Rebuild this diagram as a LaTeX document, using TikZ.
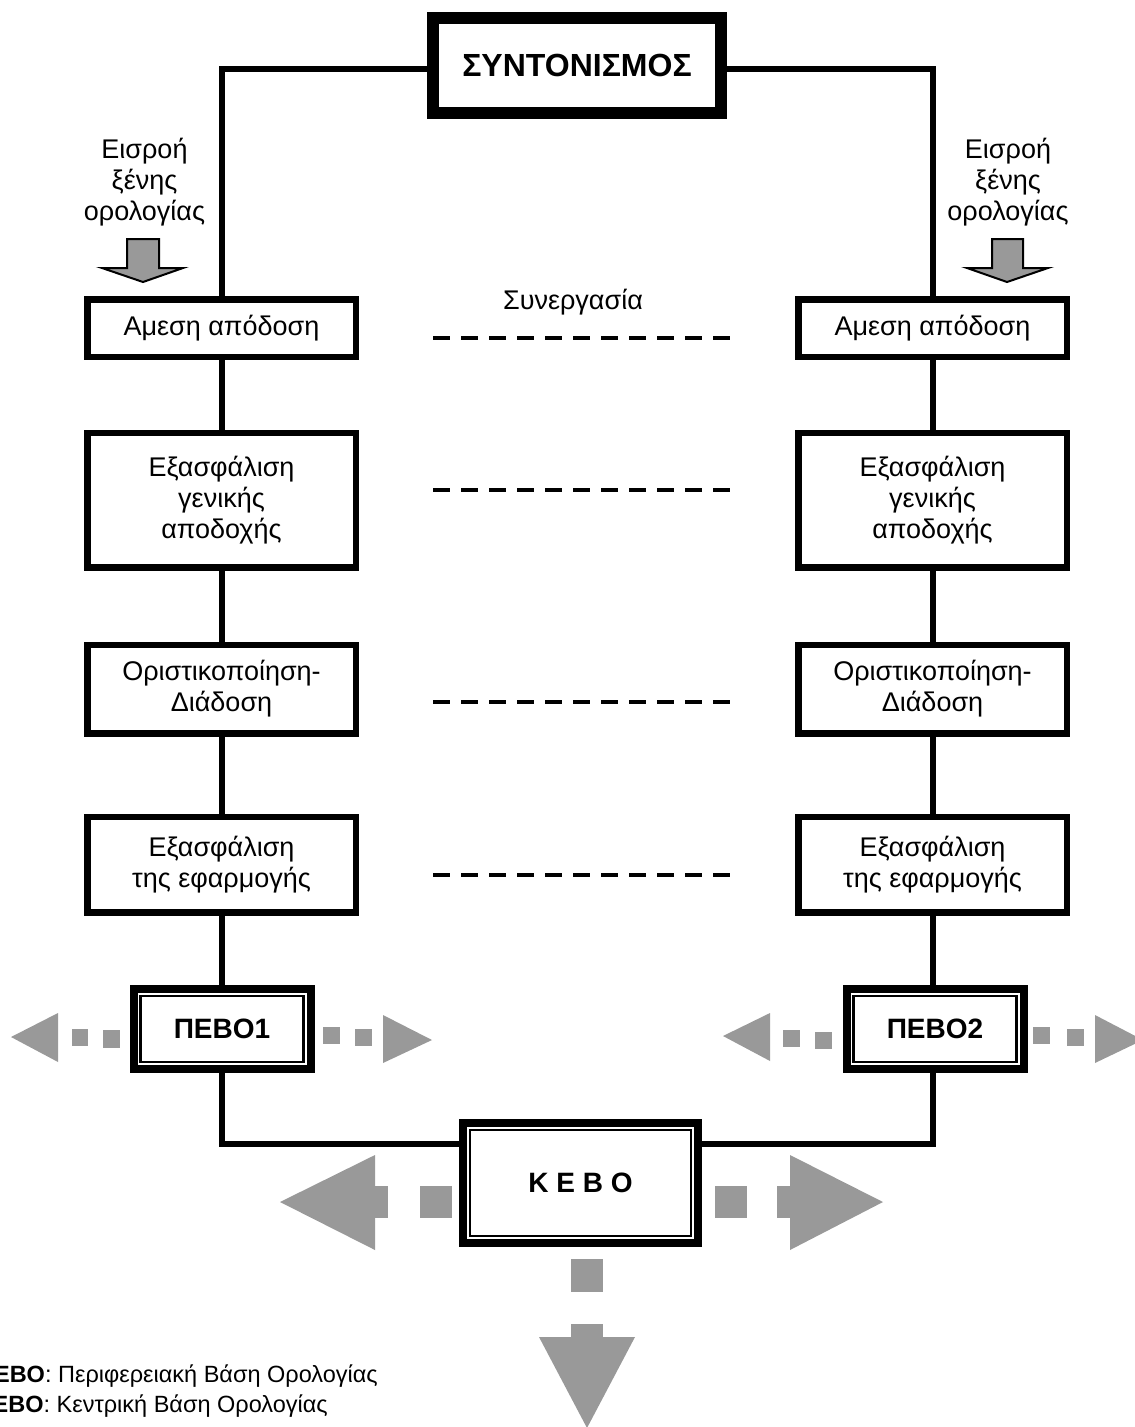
\documentclass[tikz,border=0pt]{standalone}
\usepackage{fontspec}
\setmainfont{Liberation Sans}
\definecolor{arrgray}{HTML}{999999}
\begin{document}
\begin{tikzpicture}[x=1pt,y=-1pt,
  box/.style={draw,line width=6.5pt,fill=white,minimum width=268.5pt,inner sep=0pt,align=center,font=\fontsize{27}{31}\selectfont},
  dbox/.style={draw,line width=8pt,fill=white,inner sep=0pt,align=center,font=\bfseries\fontsize{28}{32}\selectfont},
  inner/.style={draw=black,line width=2.2pt},
  conn/.style={line width=6pt,line join=miter},
  coop/.style={line width=4pt,dash pattern=on 17pt off 11pt},
  garrow/.style={fill=arrgray,draw=none},
  inarrow/.style={fill=arrgray,draw=black,line width=2pt,line join=miter},
  lbl/.style={font=\fontsize{27}{31}\selectfont,align=center,inner sep=0pt},
  legend/.style={anchor=base east,font=\fontsize{23.5}{28}\selectfont,inner sep=0pt}]

\useasboundingbox (0,0) rectangle (1135,1427);

% top box
\node[draw,line width=12pt,fill=white,minimum width=288pt,minimum height=95pt,inner sep=0pt,font=\bfseries\fontsize{32}{36}\selectfont] (synt) at (577,65.5) {ΣΥΝΤΟΝΙΣΜΟΣ};

% left column
\node[box,minimum height=57.5pt] (a1) at (221.5,328) {Αμεση απόδοση};
\node[box,minimum height=134.5pt] (g1) at (221.5,500) {Εξασφάλιση\\γενικής\\αποδοχής};
\node[box,minimum height=88.5pt] (o1) at (221.5,689) {Οριστικοποίηση-\\Διάδοση};
\node[box,minimum height=95.5pt] (e1) at (221.5,864.5) {Εξασφάλιση\\της εφαρμογής};
\node[dbox,minimum width=177pt,minimum height=80pt] (p1) at (222,1029) {ΠΕΒΟ1};

% right column
\node[box,minimum height=57.5pt] (a2) at (932.5,328) {Αμεση απόδοση};
\node[box,minimum height=134.5pt] (g2) at (932.5,500) {Εξασφάλιση\\γενικής\\αποδοχής};
\node[box,minimum height=88.5pt] (o2) at (932.5,689) {Οριστικοποίηση-\\Διάδοση};
\node[box,minimum height=95.5pt] (e2) at (932.5,864.5) {Εξασφάλιση\\της εφαρμογής};
\node[dbox,minimum width=177pt,minimum height=80pt] (p2) at (935,1029) {ΠΕΒΟ2};

% central box
\node[dbox,minimum width=235pt,minimum height=120pt] (kebo) at (580.5,1183) {Κ Ε Β Ο};

% inner thin borders (double frame)
\draw[inner] (140.5,996) rectangle (303.5,1062);
\draw[inner] (853.5,996) rectangle (1016.5,1062);
\draw[inner] (470,1130) rectangle (691,1236);

% connectors
\draw[conn] ([yshift=-3.5pt]synt.west) -| (a1.north);
\draw[conn] ([yshift=-3.5pt]synt.east) -| (a2.north);
\draw[conn] (a1.south) -- (g1.north);
\draw[conn] (g1.south) -- (o1.north);
\draw[conn] (o1.south) -- (e1.north);
\draw[conn] (e1.south) -- (e1.south |- p1.north);
\draw[conn] (a2.south) -- (g2.north);
\draw[conn] (g2.south) -- (o2.north);
\draw[conn] (o2.south) -- (e2.north);
\draw[conn] (e2.south) -- (e2.south |- p2.north);
\draw[conn] (e1.south |- p1.south) |- ([yshift=39pt]kebo.west);
\draw[conn] (e2.south |- p2.south) |- ([yshift=39pt]kebo.east);

% cooperation
\node[lbl] (coopl) at (573,302) {Συνεργασία};
\foreach \y/\k in {338/1,490/2,702/3,875/4}{
  \coordinate (cl\k) at (433,\y);
  \coordinate (cr\k) at (731,\y);
  \draw[coop] (cl\k) -- (cr\k);
}

% foreign terminology inputs
\node[lbl] (in1) at (144.5,182) {Εισροή\\ξένης\\ορολογίας};
\node[lbl] (in2) at (1008,182) {Εισροή\\ξένης\\ορολογίας};
\draw[inarrow] (127,239) -- (159,239) -- (159,268) -- (183,268) -- (143,282) -- (102,268) -- (127,268) -- cycle;
\draw[inarrow] (992,239) -- (1023,239) -- (1023,268) -- (1048,268) -- (1007,282) -- (967,268) -- (992,268) -- cycle;

% PEBO1 arrows
\fill[garrow] (11,1037) -- (58,1013) -- (58,1062) -- cycle;
\fill[garrow] (72,1029) rectangle (88,1046);
\fill[garrow] (103,1030) rectangle (120,1048);
\fill[garrow] (323,1027) rectangle (340,1044);
\fill[garrow] (355,1029) rectangle (372,1046);
\fill[garrow] (383,1015) -- (432,1040) -- (383,1063) -- cycle;

% PEBO2 arrows
\fill[garrow] (723,1036) -- (770,1013) -- (770,1061) -- cycle;
\fill[garrow] (783,1030) rectangle (800,1047);
\fill[garrow] (815,1032) rectangle (832,1049);
\fill[garrow] (1033,1027) rectangle (1050,1044);
\fill[garrow] (1067,1029) rectangle (1084,1046);
\fill[garrow] (1095,1015) -- (1143,1040) -- (1095,1063) -- cycle;

% KEBO arrows
\fill[garrow] (280,1202) -- (375,1155) -- (375,1250) -- cycle;
\fill[garrow] (374,1186) rectangle (388,1218);
\fill[garrow] (420,1186) rectangle (452,1218);
\fill[garrow] (715,1186) rectangle (747,1218);
\fill[garrow] (777,1186) rectangle (791,1218);
\fill[garrow] (790,1155) -- (883,1202) -- (790,1250) -- cycle;
\fill[garrow] (571,1259) rectangle (603,1292);
\fill[garrow] (571,1324) rectangle (603,1338);
\fill[garrow] (539,1337) -- (635,1337) -- (587,1428) -- cycle;

% legend
\node[legend] (leg1) at (378,1382) {\textbf{ΠΕΒΟ}: Περιφερειακή Βάση Ορολογίας};
\node[legend] (leg2) at (328,1412) {\textbf{ΚΕΒΟ}: Κεντρική Βάση Ορολογίας};
\end{tikzpicture}
\end{document}
